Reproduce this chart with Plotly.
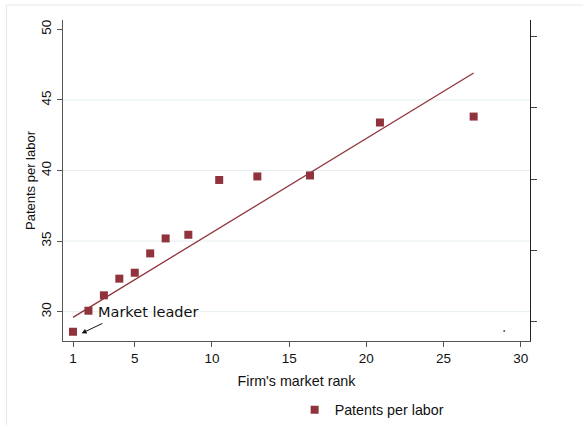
import plotly.graph_objects as go

# Firm market rank vs. patents per labor
rank = [1, 2, 3, 4, 5, 6, 7, 8.47, 10.47, 12.94, 16.35, 20.88, 26.95]
patents = [28.58, 30.07, 31.16, 32.34, 32.76, 34.13, 35.19, 35.45, 39.33, 39.58, 39.65, 43.4, 43.82]

# Linear fit endpoints
fit_x = [1, 26.95]
fit_y = [29.6, 46.91]

# Stray point near the bottom-right corner
stray_x = [28.93]
stray_y = [28.63]

x_ticks = [1, 5, 10, 15, 20, 25, 30]
y_ticks = [30, 35, 40, 45, 50]
grid_levels = [30, 35, 40, 45]
y2_ticks = [1, 2, 3, 4, 5]

maroon = "#90333c"
font_family = "Liberation Sans, Arial, sans-serif"

fig = go.Figure()

fig.add_trace(go.Scatter(
    x=fit_x, y=fit_y, mode="lines",
    line=dict(color=maroon, width=1.3),
    showlegend=False, hoverinfo="skip",
))

fig.add_trace(go.Scatter(
    x=rank, y=patents, mode="markers", name="Patents per labor",
    marker=dict(symbol="square", size=8, color=maroon),
))

fig.add_trace(go.Scatter(
    x=stray_x, y=stray_y, mode="markers",
    marker=dict(symbol="circle", size=2, color="#3a5a80"),
    showlegend=False, hoverinfo="skip",
))

# empty trace so the right-hand axis is drawn
fig.add_trace(go.Scatter(
    x=[None], y=[None], yaxis="y2", mode="markers", showlegend=False,
))

shapes = []
for g in grid_levels:
    shapes.append(dict(
        type="line", xref="paper", x0=0, x1=1, yref="y", y0=g, y1=g,
        line=dict(color="#e6eef0", width=1), layer="below",
    ))
# outer frame
shapes.append(dict(
    type="rect", xref="paper", yref="paper",
    x0=-0.121, x1=1.3, y0=-0.4, y1=1.0467,
    line=dict(color="#e4eaea", width=1), layer="below",
))

fig.update_layout(
    width=583, height=425,
    margin=dict(l=63, r=53, t=20, b=84, autoexpand=False),
    paper_bgcolor="white", plot_bgcolor="white",
    font=dict(family=font_family, size=13, color="#111"),
    xaxis=dict(
        range=[0.352, 30.6], tickvals=x_ticks, automargin=False,
        showgrid=False, zeroline=False,
        showline=True, linecolor="#555", linewidth=1.3,
        ticks="outside", ticklen=5, tickcolor="#555", tickwidth=1.3,
        tickfont=dict(size=13.5),
        title=dict(text="Firm's market rank", font=dict(size=14.3), standoff=10),
    ),
    yaxis=dict(
        range=[27.925, 50.66], tickvals=y_ticks, automargin=False,
        showgrid=False, zeroline=False,
        showline=True, linecolor="#555", linewidth=1.3,
        ticks="outside", ticklen=5, tickcolor="#555", tickwidth=1.3,
        tickangle=-90, tickfont=dict(size=13.5),
        title=dict(text="Patents per labor", font=dict(size=13), standoff=0),
    ),
    yaxis2=dict(
        overlaying="y", side="right", range=[0.7246, 5.235],
        tickvals=y2_ticks, showticklabels=False, automargin=False,
        showgrid=False, zeroline=False,
        showline=True, linecolor="#222", linewidth=1.3,
        ticks="outside", ticklen=6, tickcolor="#444", tickwidth=1.3,
    ),
    showlegend=True,
    legend=dict(
        x=0.496, y=-0.215, xanchor="left", yanchor="middle",
        orientation="h", font=dict(size=14.3),
        bgcolor="rgba(0,0,0,0)",
    ),
    shapes=shapes,
    annotations=[
        dict(
            x=2.49, y=30.0, xref="x", yref="y", text="Market leader",
            showarrow=False, xanchor="left", yanchor="middle",
            font=dict(family="DejaVu Sans, sans-serif", size=14.5, color="#111"),
        ),
        dict(
            x=1.56, y=28.47, xref="x", yref="y", text="",
            showarrow=True, axref="x", ayref="y", ax=3.0, ay=29.22,
            arrowhead=2, arrowsize=1, arrowwidth=1, arrowcolor="#111",
        ),
    ],
)

fig.write_html("out.html")
